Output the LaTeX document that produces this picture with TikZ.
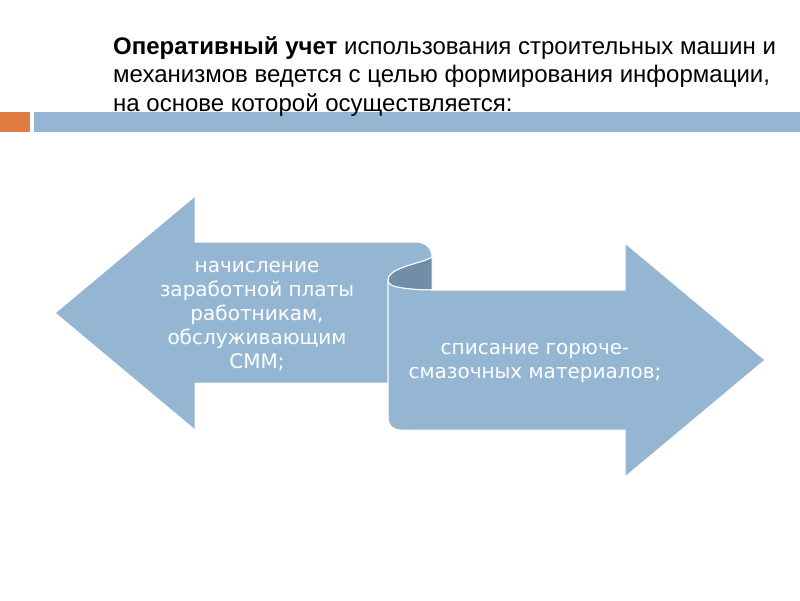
\documentclass[tikz,border=0pt]{standalone}
\usepackage{fontspec}
\setmainfont{Liberation Sans}
\newfontfamily\arrowfont{DejaVu Sans}
\definecolor{shapeblue}{RGB}{148,182,210}
\definecolor{curlblue}{RGB}{112,142,168}
\definecolor{barblue}{RGB}{149,181,210}
\definecolor{barorange}{RGB}{224,125,66}
\begin{document}
\begin{tikzpicture}[x=1pt,y=-1pt,
  arrowshape/.style={fill=shapeblue, draw=white, line width=1pt, line join=round},
  curlshape/.style={fill=curlblue, draw=white, line width=1pt, line join=round},
  arrowtext/.style={text=white, align=center, font=\arrowfont\fontsize{20}{24.2}\selectfont, inner sep=0pt},
  titletext/.style={text=black, align=left, font=\fontsize{24}{28.3}\selectfont, inner sep=0pt, anchor=base west}]
\useasboundingbox (0,0) rectangle (800,600);
% top bars
\fill[barorange] (0,112) rectangle (30,132);
\fill[barblue] (34,112) rectangle (800,132);
% title (anchor is the baseline of the last line)
\node[titletext] (title) at (113,111) {\textbf{Оперативный учет} использования строительных машин и\\механизмов ведется с целью формирования информации,\\на основе которой осуществляется:};
% left arrow
\path[arrowshape] (55,313) -- (195,196) -- (195,242) -- (416,242)
  .. controls (425,242) and (432,248) .. (432,257)
  .. controls (425,262) and (408,264) .. (395,271)
  .. controls (392,273) and (388,276) .. (388,280)
  -- (388,383) -- (195,383) -- (195,430) -- cycle;
% curl (inner side of the scroll)
\path[curlshape] (388,280) .. controls (388,276) and (392,273) .. (395,271)
  .. controls (408,264) and (425,262) .. (432,257)
  -- (432,290) .. controls (415,290) and (396,288) .. (391,285)
  .. controls (389,284) and (388,282) .. (388,280) -- cycle;
% right arrow
\path[arrowshape] (388,280) -- (388,418)
  .. controls (388,425) and (393,430) .. (400,430)
  -- (625,430) -- (625,477) -- (765,360) -- (625,243) -- (625,290) -- (432,290)
  .. controls (415,290) and (396,288) .. (391,285)
  .. controls (389,284) and (388,282) .. (388,280) -- cycle;
% texts
\node[arrowtext] (lefttext) at (257,316) {начисление\\заработной платы\\работникам,\\обслуживающим\\СММ;};
\node[arrowtext] (righttext) at (535,363) {списание горюче-\\смазочных материалов;};
\end{tikzpicture}
\end{document}
